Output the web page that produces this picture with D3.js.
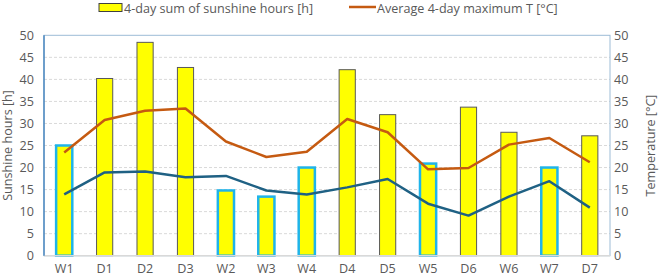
<!DOCTYPE html>
<html><head><meta charset="utf-8">
<script src="https://cdn.jsdelivr.net/npm/d3@7"></script>
<style>body{margin:0;background:#fff;} text{font-family:"Open Sans","Liberation Sans",sans-serif;}</style>
</head><body>
<svg id="c" width="662" height="279"></svg>
<script>
const categories = ["W1","D1","D2","D3","W2","W3","W4","D4","D5","W5","D6","W6","W7","D7"];
const sunshine = [25.0,40.2,48.4,42.7,14.8,13.4,20.0,42.2,32.0,20.9,33.7,28.0,20.0,27.2];
const outlineGroup = ["blue","dark","dark","dark","blue","blue","blue","dark","dark","blue","dark","dark","blue","dark"];
const maxT = [23.4,30.8,32.9,33.4,25.9,22.4,23.6,31.0,28.0,19.6,19.9,25.2,26.7,21.2];
const minT = [13.9,18.9,19.1,17.8,18.1,14.8,13.9,15.5,17.4,11.8,9.1,13.4,16.9,10.9];
const leftTicks = [0,5,10,15,20,25,30,35,40,45,50];
const rightTicks = [0,5,10,15,20,25,30,35,40,45,50];

const svg = d3.select("#c");
const L=44, R=610, T=35.3, B=255.7;
const x = d3.scaleBand().domain(categories).range([L,R]).paddingInner(0.6).paddingOuter(0.3);
const y = d3.scaleLinear().domain([0,50]).range([B,T]);
const y2 = d3.scaleLinear().domain([0,50]).range([B,T]);
const grey="#595959";
const fs="12.6px";

svg.append("g").selectAll("line").data(leftTicks.filter(d=>d>0&&d<50)).join("line")
  .attr("x1",L).attr("x2",R).attr("y1",d=>y(d)).attr("y2",d=>y(d))
  .attr("stroke","#d9d9d9").attr("stroke-dasharray","3,2").attr("stroke-width",1);

const ax = svg.append("g").attr("transform",`translate(${L-10},0)`)
  .call(d3.axisLeft(y).tickValues(leftTicks).tickSize(0).tickPadding(0));
ax.select(".domain").remove();
ax.selectAll("text").attr("fill",grey).style("font-size",fs);
const ax2 = svg.append("g").attr("transform",`translate(${R+3},0)`)
  .call(d3.axisRight(y2).tickValues(rightTicks).tickSize(0).tickPadding(1));
ax2.select(".domain").remove();
ax2.selectAll("text").attr("fill",grey).style("font-size",fs);
const axb = svg.append("g").attr("transform",`translate(0,${B})`)
  .call(d3.axisBottom(x).tickSize(0).tickPadding(0));
axb.select(".domain").remove();
axb.selectAll("text").attr("fill",grey).style("font-size",fs).attr("y",17.5).attr("dy",null);

svg.append("g").selectAll("rect").data(categories).join("rect")
  .attr("x",(d,i)=>x(d)).attr("width",x.bandwidth())
  .attr("y",(d,i)=>y(sunshine[i])).attr("height",(d,i)=>B-y(sunshine[i]))
  .attr("fill","#ffff00")
  .attr("stroke",(d,i)=>outlineGroup[i]==="blue"?"#1fb4ea":"#595959")
  .attr("stroke-width",(d,i)=>outlineGroup[i]==="blue"?2.5:1);

svg.append("rect").attr("x",L).attr("y",T).attr("width",R-L).attr("height",B-T)
  .attr("fill","none").attr("stroke","#9dbcd6").attr("stroke-width",1);
svg.append("line").attr("x1",L).attr("x2",R).attr("y1",B).attr("y2",B).attr("stroke","#d9d9d9").attr("stroke-width",1.5);
svg.append("line").attr("x1",L).attr("x2",L).attr("y1",T).attr("y2",B).attr("stroke","#2e75b6").attr("stroke-width",1.2);

const cx = d=>x(d)+x.bandwidth()/2;
const line = arr => d3.line().x((d,i)=>cx(categories[i])).y((d,i)=>y2(arr[i]));
svg.append("path").datum(maxT).attr("d",line(maxT)).attr("fill","none")
  .attr("stroke","#c55a11").attr("stroke-width",2.5).attr("stroke-linejoin","round");
svg.append("path").datum(minT).attr("d",line(minT)).attr("fill","none")
  .attr("stroke","#1f6184").attr("stroke-width",2.5).attr("stroke-linejoin","round");

svg.append("text").attr("transform",`translate(12,${(T+B)/2}) rotate(-90)`).attr("text-anchor","middle")
  .attr("fill",grey).style("font-size",fs).text("Sunshine hours [h]");
svg.append("text").attr("transform",`translate(655,${(T+B)/2}) rotate(-90)`).attr("text-anchor","middle")
  .attr("fill",grey).style("font-size",fs).text("Temperature [°C]");

const lg = svg.append("g");
lg.append("rect").attr("x",99).attr("y",3.5).attr("width",23).attr("height",8).attr("fill","#ffff00").attr("stroke","#404040").attr("stroke-width",1);
lg.append("text").attr("x",124).attr("y",12.5).attr("fill",grey).style("font-size",fs).text("4-day sum of sunshine hours [h]");
lg.append("line").attr("x1",349).attr("x2",376).attr("y1",7).attr("y2",7).attr("stroke","#c55a11").attr("stroke-width",2.5);
lg.append("text").attr("x",377).attr("y",12.5).attr("fill",grey).style("font-size",fs).text("Average 4-day maximum T [°C]");
</script>
</body></html>
